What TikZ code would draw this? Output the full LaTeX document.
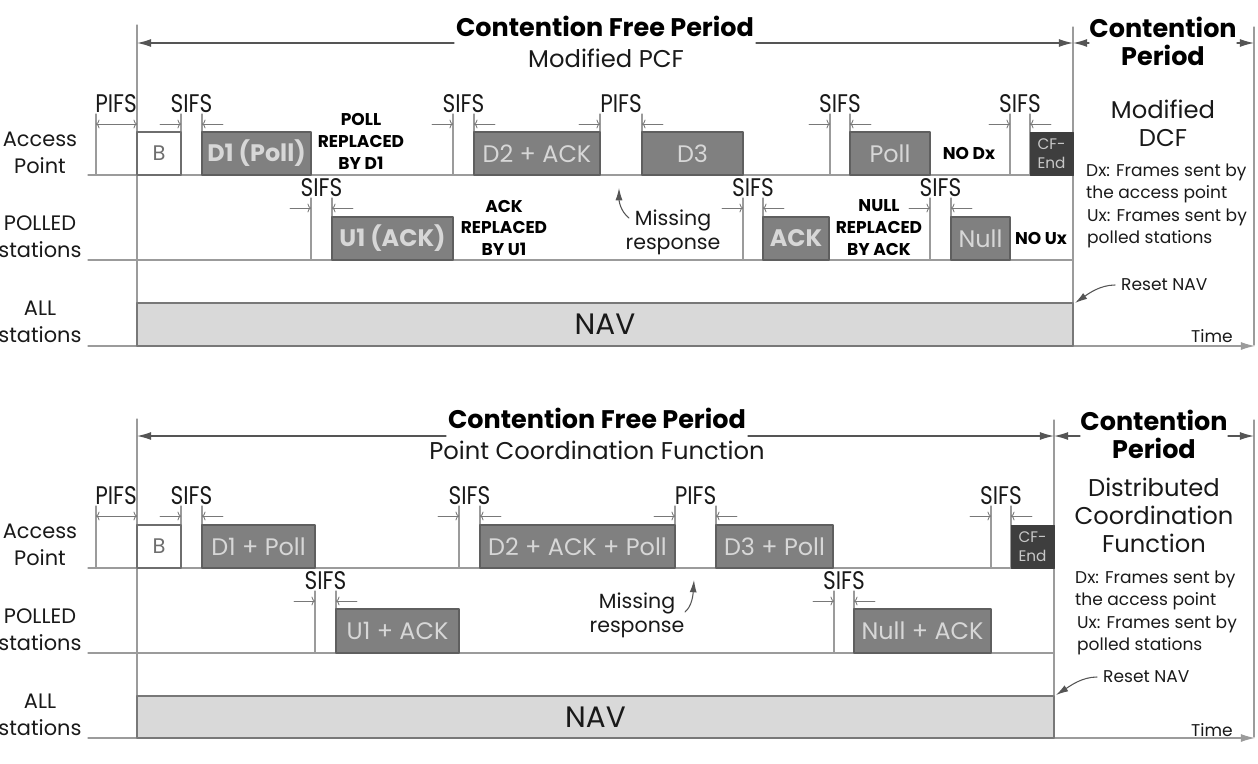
\documentclass[tikz,border=0pt]{standalone}
\usepackage{fontspec}
\setmainfont{Poppins}
\newfontfamily\narrowfont[FakeStretch=0.85]{Poppins}
\usepackage{tikz}
\usetikzlibrary{arrows.meta, positioning}
\definecolor{gridgray}{RGB}{155,155,155}
\definecolor{tipgray}{RGB}{120,120,120}
\definecolor{periodgray}{RGB}{85,85,85}
\definecolor{inkblack}{RGB}{25,25,25}
\definecolor{idleedge}{RGB}{110,110,110}
\definecolor{framefill}{RGB}{128,128,128}
\definecolor{frameedge}{RGB}{95,95,95}
\definecolor{framefont}{RGB}{215,215,215}
\definecolor{cfendfill}{RGB}{62,62,62}
\definecolor{cfendfont}{RGB}{200,200,200}
\definecolor{navfill}{RGB}{217,217,217}
\definecolor{navedge}{RGB}{120,120,120}
\tikzset{
	gridline/.style={draw=gridgray, line width=0.6pt},
	timeaxis/.style={draw=gridgray, -{Latex[length=8pt,width=4.5pt]}},
	period/.style={draw=periodgray, line width=0.7pt, -{Latex[length=8pt,width=4.5pt]}},
	gapline/.style={draw=gridgray, line width=0.6pt},
	gaptip/.style={draw=tipgray, line width=0.5pt, >={To[length=2pt,width=5pt]}, ->},
	gaplabel/.style={anchor=base, inner sep=0pt, text=inkblack, font=\narrowfont\fontsize{14.5}{15}\selectfont},
	rowlabel/.style={align=center, text=inkblack, font=\fontsize{11.9}{15.3}\selectfont},
	idle/.style={draw=idleedge, fill=white, line width=0.7pt},
	idletext/.style={text=idleedge, font=\fontsize{12}{14}\selectfont},
	frm/.style={draw=frameedge, fill=framefill, line width=0.7pt},
	frmtext/.style={text=framefont, font=\fontsize{13.6}{15}\selectfont},
	frmbold/.style={text=framefont, font=\fontsize{13.6}{15}\selectfont\bfseries},
	cfend/.style={draw=cfendfill, fill=cfendfill},
	cfendtext/.style={text=cfendfont, align=center, font=\fontsize{8.7}{10.8}\selectfont},
	note/.style={align=center, text=black, font=\fontsize{9.7}{12.5}\selectfont\bfseries},
	comment/.style={align=center, text=inkblack, font=\fontsize{11.7}{13.6}\selectfont},
	title/.style={align=center, inner xsep=1pt, text=black, font=\fontsize{14.5}{15.9}\selectfont\bfseries},
	subtitle/.style={inner sep=0pt, text=inkblack, font=\fontsize{13.8}{15}\selectfont},
	side/.style={align=center, text=inkblack, font=\fontsize{13.8}{15.9}\selectfont},
	legend/.style={align=left, text=inkblack, font=\fontsize{9.7}{12.5}\selectfont},
	pointer/.style={draw=periodgray, line width=0.6pt, -{Latex[length=7pt,width=4pt]}},
	nav/.style={draw=navedge, fill=navfill, line width=0.7pt},
	navtext/.style={text=inkblack, font=\fontsize{16.8}{18}\selectfont},
}
% interframe space: name, left x, right x, top y, base y, text
\newcommand{\gapmark}[6]{%
	\draw[gapline] (#2,#4) -- (#2,#5) (#3,#4) -- (#3,#5);
	\draw[gaptip] (#2-21,#4+10) -- (#2,#4+10);
	\draw[gaptip] (#3+21,#4+10) -- (#3,#4+10);
	\node[gaplabel] (#1) at ({(#2+#3)/2},#4-2) {#6};
}

\begin{document}
\begin{tikzpicture}[x=0.02cm,y=-0.02cm,line join=round,line cap=round]
	\useasboundingbox (0,0) rectangle (1258,764);
	% upper chart
	\begin{scope}
		\coordinate (ul) at (137,43);
		\coordinate (um) at (1073,43);
		\coordinate (ur) at (1254,43);
		\draw[gridline] (137,25) -- (137,346);
		\draw[gridline] (1073,27) -- (1073,346);
		\draw[gridline] (1254,27) -- (1254,345);
		\draw[gridline] (88,175) -- (1073,175);
		\draw[gridline] (88,260) -- (1073,260);
		\draw[gridline, timeaxis] (88,346) -- (1255,346);
		\node[title, anchor=base] (ucfp) at (605,36) {Contention Free Period};
		\node[subtitle, anchor=base] (upcf) at (606,67) {Modified PCF};
		\draw[period] (ucfp.west |- ul) -- (ul);
		\draw[period] (ucfp.east |- ul) -- (um);
		\node[title, inner xsep=0pt] (ucp) at (1163,41) {Contention\\Period};
		\draw[period] (ucp.west |- um) -- (um);
		\draw[period] (ucp.east |- um) -- (ur);
		\node[rowlabel] (uap) at (40,153) {Access\\Point};
		\node[rowlabel] (upol) at (40,237) {POLLED\\stations};
		\node[rowlabel] (uall) at (40,322) {ALL\\stations};
		\draw[gapline] (96,114) -- (96,175);
		\draw[gaptip, <->] (96,124) -- (137,124);
		\node[gaplabel] (upifs) at (116,112) {PIFS};
		\foreach \a/\b/\s [count=\k] in {181/202/SIFS, 453/474/SIFS, 600/642/PIFS, 830/850/SIFS, 1010/1030/SIFS}
			\gapmark{uap\k}{\a}{\b}{114}{175}{\s};
		\foreach \a/\b [count=\k] in {311/332, 743/763, 930/951}
			\gapmark{upol\k}{\a}{\b}{198}{260}{SIFS};
		\draw[idle] (137,132) rectangle (181,175) node[midway, idletext] (ubeacon) {B};
		\draw[frm] (202,132) rectangle (311,175) node[midway, frmbold] (ud1) {D1 (Poll)};
		\draw[frm] (332,217) rectangle (453,260) node[midway, frmbold] (uu1) {U1 (ACK)};
		\draw[frm] (474,132) rectangle (600,175) node[midway, frmtext] (ud2) {D2 + ACK};
		\draw[frm] (642,132) rectangle (743,175) node[midway, frmtext] (ud3) {D3};
		\draw[frm] (763,217) rectangle (829,260) node[midway, frmbold] (uack) {ACK};
		\draw[frm] (850,132) rectangle (930,175) node[midway, frmtext] (upoll) {Poll};
		\draw[frm] (951,217) rectangle (1010,260) node[midway, frmtext] (unull) {Null};
		\draw[cfend] (1030,132) rectangle (1073,175) node[midway, cfendtext] (ucfend) {CF-\\End};
		\node[note] (urep1) at (361,141) {POLL\\REPLACED\\BY D1};
		\node[note] (urep2) at (504,228) {ACK\\REPLACED\\BY U1};
		\node[note] (urep3) at (879,228) {NULL\\REPLACED\\BY ACK};
		\node[note] (unodx) at (969,153) {NO Dx};
		\node[note] (unoux) at (1041,238) {NO Ux};
		\node[comment] (umiss) at (673,232) {Missing\\response};
		\coordinate (umisstail) at (629,218);
		\coordinate (umisstip) at (619,188);
		\draw[pointer] (umisstail) .. controls (620,211) and (619,200) .. (umisstip);
		\draw[nav] (137,303) rectangle (1073,346) node[midway, navtext] (unav) {NAV};
		\node[side] (udcf) at (1163,123) {Modified\\DCF};
		\node[legend, anchor=west] (udx) at (1080,183) {Dx: Frames sent by\\the access point};
		\node[legend, anchor=west] (uux) at (1081,228) {Ux: Frames sent by\\polled stations};
		\node[legend, anchor=west] (ureset) at (1115,285) {Reset NAV};
		\coordinate (unavend) at (1075,303);
		\draw[pointer] (ureset.west) .. controls (1100,285) and (1088,294) .. (unavend);
		\node[legend] (utime) at (1212,336) {Time};
	\end{scope}
	% lower chart
	\begin{scope}
		\coordinate (ll) at (137,436);
		\coordinate (lm) at (1054,436);
		\coordinate (lr) at (1254,436);
		\draw[gridline] (137,419) -- (137,738);
		\draw[gridline] (1054,420) -- (1054,738);
		\draw[gridline] (1254,420) -- (1254,737);
		\draw[gridline] (88,568) -- (1054,568);
		\draw[gridline] (88,653) -- (1054,653);
		\draw[gridline, timeaxis] (88,738) -- (1255,738);
		\node[title, anchor=base] (lcfp) at (597,428) {Contention Free Period};
		\node[subtitle, anchor=base] (lpcf) at (597,459) {Point Coordination Function};
		\draw[period] (lcfp.west |- ll) -- (ll);
		\draw[period] (lcfp.east |- ll) -- (lm);
		\node[title, inner xsep=0pt] (lcp) at (1154,434) {Contention\\Period};
		\draw[period] (lcp.west |- lm) -- (lm);
		\draw[period] (lcp.east |- lm) -- (lr);
		\node[rowlabel] (lap) at (40,545) {Access\\Point};
		\node[rowlabel] (lpol) at (40,630) {POLLED\\stations};
		\node[rowlabel] (lall) at (40,715) {ALL\\stations};
		\draw[gapline] (96,506) -- (96,568);
		\draw[gaptip, <->] (96,516) -- (137,516);
		\node[gaplabel] (lpifs) at (116,504) {PIFS};
		\foreach \a/\b/\s [count=\k] in {181/202/SIFS, 459/480/SIFS, 675/716/PIFS, 991/1011/SIFS}
			\gapmark{lap\k}{\a}{\b}{506}{568}{\s};
		\foreach \a/\b [count=\k] in {315/336, 834/854}
			\gapmark{lpol\k}{\a}{\b}{591}{653}{SIFS};
		\draw[idle] (137,525) rectangle (181,568) node[midway, idletext] (lbeacon) {B};
		\draw[frm] (202,525) rectangle (315,568) node[midway, frmtext] (ld1) {D1 + Poll};
		\draw[frm] (336,609) rectangle (459,653) node[midway, frmtext] (lu1) {U1 + ACK};
		\draw[frm] (480,525) rectangle (675,568) node[midway, frmtext] (ld2) {D2 + ACK + Poll};
		\draw[frm] (716,525) rectangle (833,568) node[midway, frmtext] (ld3) {D3 + Poll};
		\draw[frm] (854,609) rectangle (991,653) node[midway, frmtext] (lnull) {Null + ACK};
		\draw[cfend] (1011,525) rectangle (1054,568) node[midway, cfendtext] (lcfend) {CF-\\End};
		\node[comment] (lmiss) at (637,615) {Missing\\response};
		\coordinate (lmisstail) at (685,612);
		\coordinate (lmisstip) at (694,580);
		\draw[pointer] (lmisstail) .. controls (692,606) and (693,595) .. (lmisstip);
		\draw[nav] (137,696) rectangle (1054,738) node[midway, navtext] (lnav) {NAV};
		\node[side] (ldcf) at (1154,515) {Distributed\\Coordination\\Function};
		\node[legend, anchor=west] (ldx) at (1069,590) {Dx: Frames sent by\\the access point};
		\node[legend, anchor=west] (lux) at (1071,635) {Ux: Frames sent by\\polled stations};
		\node[legend, anchor=west] (lreset) at (1097,677) {Reset NAV};
		\coordinate (lnavend) at (1056,695);
		\draw[pointer] (lreset.west) .. controls (1082,677) and (1070,686) .. (lnavend);
		\node[legend] (ltime) at (1212,730) {Time};
	\end{scope}
\end{tikzpicture}
\end{document}
